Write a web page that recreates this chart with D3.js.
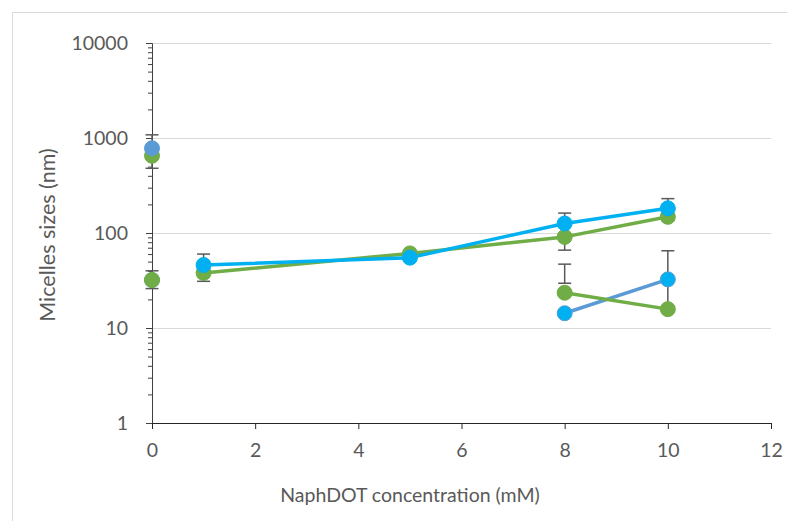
<!DOCTYPE html>
<html>
<head>
<meta charset="utf-8">
<script src="https://cdn.jsdelivr.net/npm/d3@7"></script>
<style>
  html, body { margin: 0; padding: 0; background: #fff; }
  text { font-family: Lato, "Open Sans", "Liberation Sans", sans-serif; }
</style>
</head>
<body>
<svg id="chart" width="787" height="521"></svg>
<script>
// ---- data ----
const xTicks = [0, 2, 4, 6, 8, 10, 12];
const yTicks = [1, 10, 100, 1000, 10000];
const xTitle = "NaphDOT concentration (mM)";
const yTitle = "Micelles sizes (nm)";

// lines (connected series)
const upperGreenX = [1, 5, 8, 10];
const upperGreenY = [38, 61, 91, 148];
const upperCyanX = [1, 5, 8, 10];
const upperCyanY = [46, 55, 126, 182];
const lowerGreenX = [8, 10];
const lowerGreenY = [23.5, 15.8];
const lowerBlueX = [8, 10];
const lowerBlueY = [14.3, 32.5];

// isolated points at 0 mM
const zeroGreenY = [650, 32];
const zeroBlueY = [780, 32];

// error bars: x, low, high
const errX = [0, 0, 1, 8, 8, 10, 10];
const errLow = [480, 26, 31, 66, 29.6, 135, 16];
const errHigh = [1080, 40, 60, 162, 47, 230, 65];

// ---- layout ----
const svg = d3.select("#chart");
const mLeft = 152, mRight = 771, mTop = 43, mBottom = 423;
const green = "#70AD47", cyan = "#00B0F0", steel = "#5B9BD5";
const textColor = "#595959";

const x = d3.scaleLinear().domain([0, 12]).range([mLeft, mRight]);
const y = d3.scaleLog().domain([1, 10000]).range([mBottom, mTop]);

// chart-area border
svg.append("path")
  .attr("d", "M12.5,530 L12.5,12.5 L800,12.5")
  .attr("fill", "none").attr("stroke", "#d9d9d9").attr("stroke-width", 1);

// gridlines
svg.append("g").selectAll("line").data(yTicks.slice(1)).join("line")
  .attr("x1", mLeft).attr("x2", mRight)
  .attr("y1", d => Math.round(y(d)) + 0.5).attr("y2", d => Math.round(y(d)) + 0.5)
  .attr("stroke", "#d9d9d9").attr("stroke-width", 1);

// y axis with minor ticks
const minor = [];
for (let e = 0; e < 4; e++) for (let m = 2; m <= 9; m++) minor.push(m * Math.pow(10, e));
const yAxisG = svg.append("g").attr("transform", `translate(${mLeft},0)`);
yAxisG.call(d3.axisLeft(y).tickValues(minor).tickSize(4).tickFormat(""));
yAxisG.call(g => g.select(".domain").remove());
const yMajor = svg.append("g").attr("transform", `translate(${mLeft},0)`)
  .call(d3.axisLeft(y).tickValues(yTicks).tickSize(6).tickPadding(18).tickFormat(d3.format("d")));
yMajor.select(".domain").attr("stroke", "#404040");
svg.selectAll(".tick line").attr("stroke", "#404040");
yMajor.selectAll("text").attr("fill", textColor).style("font-size", "19.5px")
  .style("font-family", "Lato, sans-serif");

// x axis
const xAxisG = svg.append("g").attr("transform", `translate(0,${mBottom})`)
  .call(d3.axisBottom(x).tickValues(xTicks).tickSize(6).tickPadding(14).tickSizeOuter(0));
xAxisG.select(".domain").attr("stroke", "#262626");
xAxisG.selectAll(".tick line").attr("stroke", "#262626");
xAxisG.selectAll("text").attr("fill", textColor).style("font-size", "19.5px")
  .style("font-family", "Lato, sans-serif");

// titles
svg.append("text").attr("x", 410).attr("y", 502).attr("text-anchor", "middle")
  .attr("fill", textColor).style("font-size", "19.5px").text(xTitle);
svg.append("text").attr("transform", "translate(55,235) rotate(-90)")
  .attr("text-anchor", "middle").attr("fill", textColor).style("font-size", "21.5px").text(yTitle);

// error bars
const errG = svg.append("g").attr("stroke", "#595959").attr("stroke-width", 1.5);
errX.forEach((xv, i) => {
  const cx = x(xv);
  errG.append("line").attr("x1", cx).attr("x2", cx).attr("y1", y(errLow[i])).attr("y2", y(errHigh[i]));
  [errLow[i], errHigh[i]].forEach(v => {
    errG.append("line").attr("x1", cx - 6.5).attr("x2", cx + 6.5).attr("y1", y(v)).attr("y2", y(v));
  });
});

// lines
const line = d3.line().x(d => x(d[0])).y(d => y(d[1]));
function drawLine(xs, ys, color) {
  svg.append("path").datum(xs.map((v, i) => [v, ys[i]]))
    .attr("d", line).attr("fill", "none").attr("stroke", color)
    .attr("stroke-width", 3.5).attr("stroke-linejoin", "round").attr("stroke-linecap", "round");
}
function drawMarkers(xs, ys, fill, stroke) {
  svg.append("g").selectAll("circle").data(xs.map((v, i) => [v, ys[i]])).join("circle")
    .attr("cx", d => x(d[0])).attr("cy", d => y(d[1])).attr("r", 7.5)
    .attr("fill", fill).attr("stroke", stroke).attr("stroke-width", 1);
}

drawLine(lowerBlueX, lowerBlueY, steel);
drawLine(lowerGreenX, lowerGreenY, green);
drawLine(upperGreenX, upperGreenY, green);
drawLine(upperCyanX, upperCyanY, cyan);

drawMarkers(lowerBlueX, lowerBlueY, cyan, steel);
drawMarkers(lowerGreenX, lowerGreenY, green, green);
drawMarkers(upperGreenX, upperGreenY, green, green);
drawMarkers(upperCyanX, upperCyanY, cyan, cyan);

// points at 0 mM
drawMarkers([0], [zeroBlueY[1]], steel, steel);
drawMarkers([0], [zeroGreenY[1]], green, green);
drawMarkers([0], [zeroGreenY[0]], green, green);
drawMarkers([0], [zeroBlueY[0]], steel, steel);
</script>
</body>
</html>
